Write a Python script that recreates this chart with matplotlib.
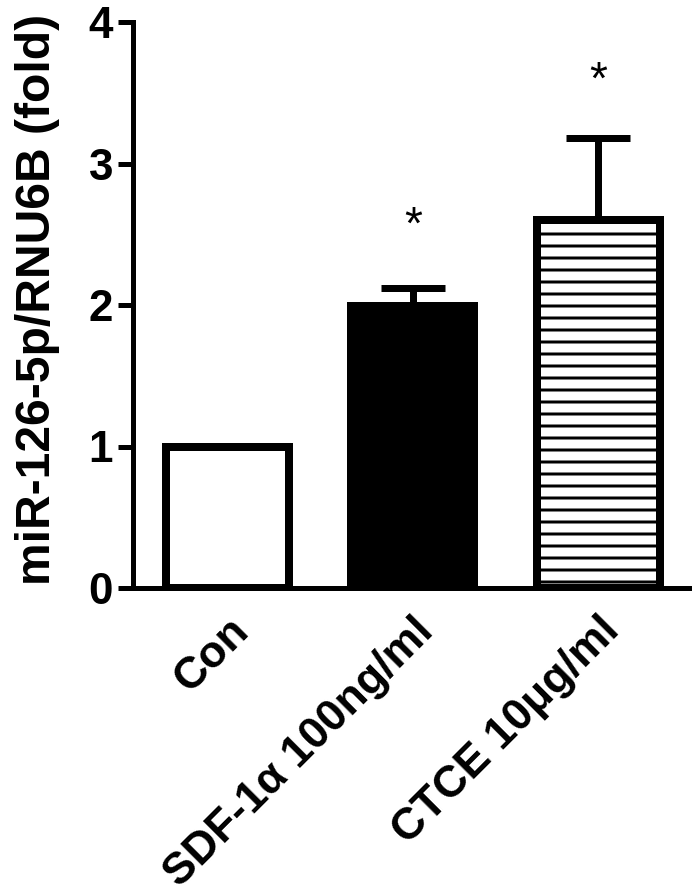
import numpy as np
import matplotlib
matplotlib.use("Agg")
import matplotlib.pyplot as plt
import matplotlib.transforms as mtransforms

# valores
groups = ['Con', 'SDF-1α 100ng/ml', 'CTCE 10μg/ml']
means = [1.0, 1.99, 2.60]
err_up = [0.0, 0.13, 0.58]
colors = ['white', 'black', 'white']
hatches = ['', '', '-']
stars = ['', '*', '*']
star_y = [0, 2.55, 3.58]
yticks = [0, 1, 2, 3, 4]

plt.rcParams['font.family'] = ['Liberation Sans', 'DejaVu Sans']
plt.rcParams['hatch.linewidth'] = 3

fig = plt.figure(figsize=(692 / 72, 895 / 72), dpi=72)
ax = fig.add_axes([133 / 692, 307 / 895, 558 / 692, 566 / 895])

x = np.arange(len(groups))
ax.errorbar(x, means, yerr=[np.zeros(len(x)), err_up], fmt='none',
            ecolor='black', elinewidth=7, capsize=32, capthick=7, zorder=1)
ax.bar(x, means, width=0.663, color=colors, edgecolor='black',
       linewidth=8, hatch=hatches, zorder=2)

for xi, s, sy in zip(x, stars, star_y):
    if s:
        ax.text(xi, sy, s, ha='center', va='center', fontsize=46)

ax.set_xlim(-0.51, 2.5)
ax.set_ylim(0, 4)
ax.set_yticks(yticks)
ax.set_xticks(x)
ax.set_xticklabels(groups, rotation=45, ha='right', va='top',
                   rotation_mode='anchor', fontsize=44.5, fontweight='bold')
offset = mtransforms.ScaledTranslation(2 / 72, 0, fig.dpi_scale_trans)
for lab in ax.get_xticklabels():
    lab.set_transform(lab.get_transform() + offset)

for lab in ax.get_yticklabels():
    lab.set_fontweight('bold')
ax.tick_params(axis='y', length=15, width=5, pad=5, labelsize=44)
ax.tick_params(axis='x', length=0, pad=22)

ax.spines['top'].set_visible(False)
ax.spines['right'].set_visible(False)
ax.spines['left'].set_linewidth(5)
ax.spines['bottom'].set_linewidth(5)

ax.set_ylabel('miR-126-5p/RNU6B (fold)', fontsize=48, fontweight='bold')
ax.yaxis.set_label_coords(-0.131, 0.51)

fig.savefig('out.png', dpi=72)
